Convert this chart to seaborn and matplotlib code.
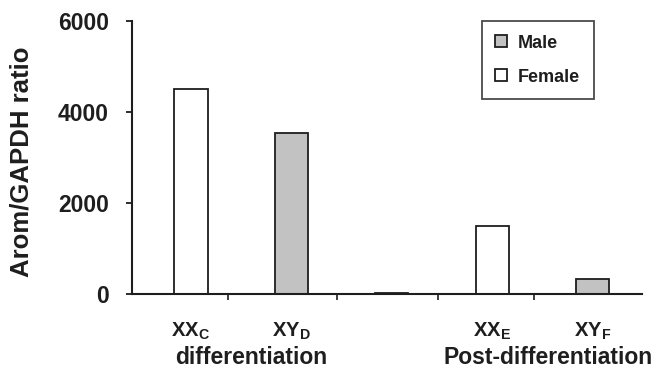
import matplotlib
matplotlib.use("Agg")
import matplotlib.pyplot as plt
import seaborn as sns
import pandas as pd

categories = ["XX$_\\mathbf{C}$", "XY$_\\mathbf{D}$", " ", "XX$_\\mathbf{E}$", "XY$_\\mathbf{F}$"]
values = [4500, 3530, 25, 1500, 330]
sexes = ["Female", "Male", "Male", "Female", "Male"]
yticks = [0, 2000, 4000, 6000]
group_labels = ["differentiation", "Post-differentiation"]
ylabel = "Arom/GAPDH ratio"

sns.set_theme(style="ticks")
plt.rcParams["font.family"] = ["Liberation Sans", "DejaVu Sans"]
plt.rcParams["font.weight"] = "bold"
plt.rcParams["mathtext.fontset"] = "custom"
plt.rcParams["mathtext.rm"] = "Liberation Sans:bold"
plt.rcParams["mathtext.bf"] = "Liberation Sans:bold"

ink = "#1e1e1e"
df = pd.DataFrame({"cat": categories, "val": values, "sex": sexes})

fig = plt.figure(figsize=(6.55, 3.69), dpi=100)
ax = fig.add_axes([0.2015, 0.2033, 0.7785, 0.7397])

palette = {"Male": "#c2c2c2", "Female": "#ffffff"}
sns.barplot(data=df, x="cat", y="val", hue="sex", hue_order=["Male", "Female"],
            palette=palette, dodge=False, width=0.33, edgecolor=ink,
            linewidth=1.3, ax=ax, legend=True)

ax.set_xlim(-0.587, 4.49)
ax.set_ylim(0, 6000)
ax.set_yticks(yticks)
ax.set_yticklabels([str(t) for t in yticks], fontsize=16.5, fontweight="bold", color=ink)
ax.set_xticks(range(len(categories)))
ax.set_xticklabels(categories, fontsize=14.5, fontweight="bold", color=ink)
ax.tick_params(axis="x", length=0, pad=19)
ax.set_xticks([0.37, 1.45, 2.46, 3.42], minor=True)
ax.tick_params(axis="x", which="minor", length=4, width=1.2, color=ink, direction="out")
ax.tick_params(axis="y", length=4.5, width=1.3, color=ink, direction="out", pad=12)
ax.set_xlabel("")
ax.set_ylabel(ylabel, fontsize=18.5, fontweight="bold", color=ink)
ax.yaxis.label.set_va("center")
ax.yaxis.set_label_coords(-0.216, 0.483)
for s in ["top", "right"]:
    ax.spines[s].set_visible(False)
for s in ["left", "bottom"]:
    ax.spines[s].set_linewidth(1.5)
    ax.spines[s].set_color(ink)

ax.text(0.6, -0.234, group_labels[0], transform=ax.get_xaxis_transform(),
        ha="center", va="center", fontsize=16.5, fontweight="bold", color=ink)
ax.text(3.56, -0.234, group_labels[1], transform=ax.get_xaxis_transform(),
        ha="center", va="center", fontsize=16.5, fontweight="bold", color=ink)

leg = ax.legend(loc="upper left", bbox_to_anchor=(0.686, 1.0), borderaxespad=0,
                frameon=True, fancybox=False,
                prop={"size": 13, "weight": "bold"}, handlelength=0.65, handleheight=0.65,
                handletextpad=0.6, borderpad=0.75, labelspacing=0.95)
leg.get_frame().set_edgecolor(ink)
leg.get_frame().set_linewidth(1.3)
for t in leg.get_texts():
    t.set_color(ink)

fig.savefig("out.png", dpi=100)
